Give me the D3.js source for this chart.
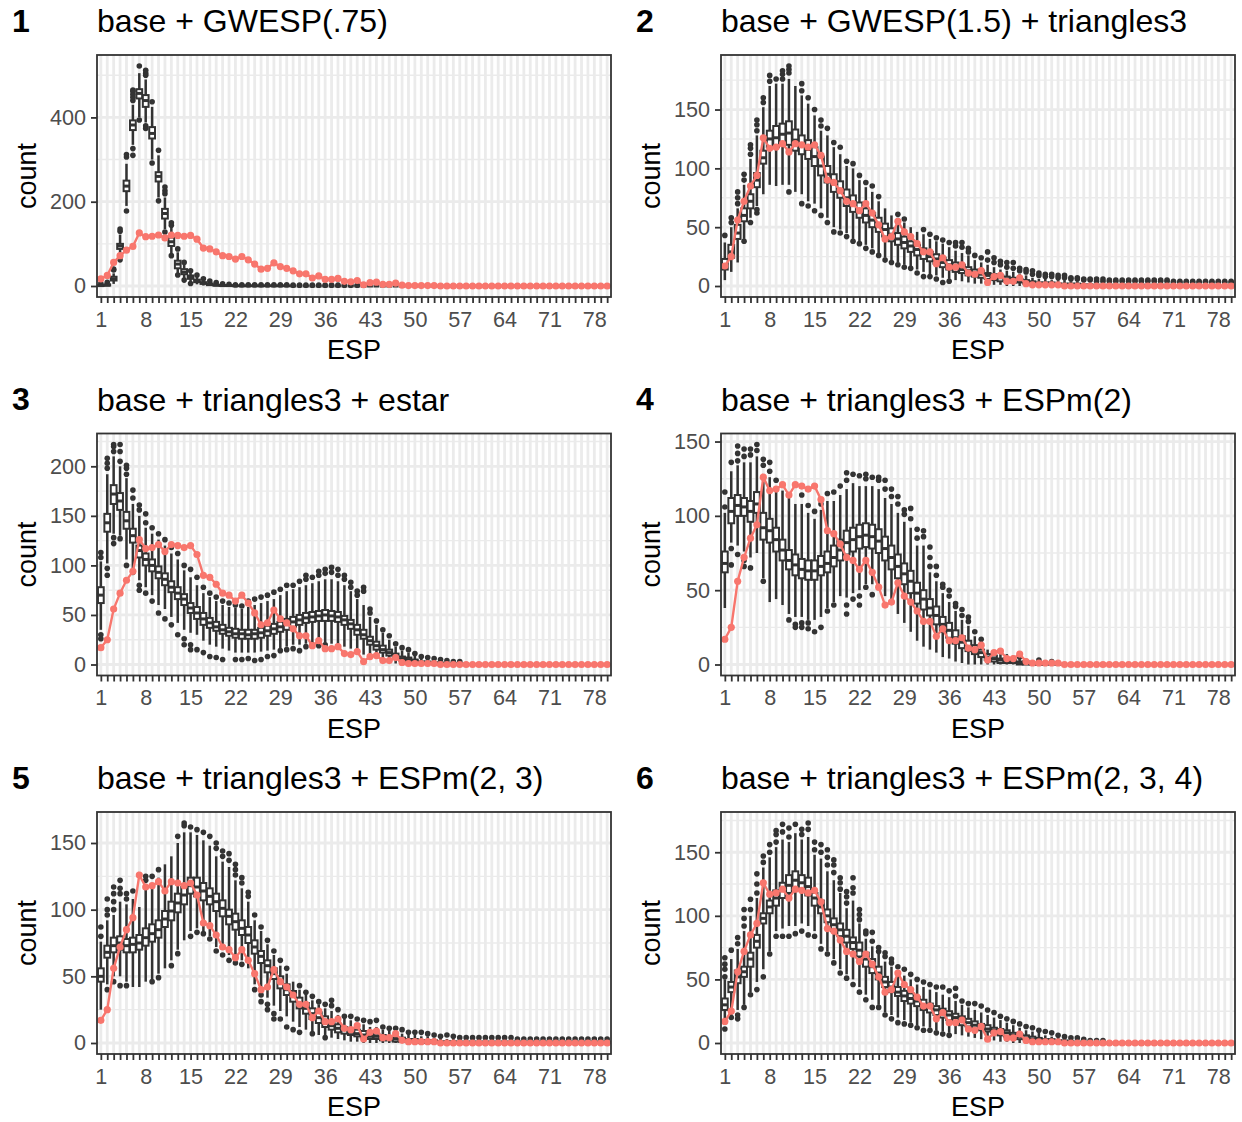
<!DOCTYPE html>
<html>
<head>
<meta charset="utf-8">
<script src="https://cdn.jsdelivr.net/npm/d3@7"></script>
<style>
  body { margin: 0; background: #fff; }
  text { font-family: "Liberation Sans", Arial, Helvetica, sans-serif; }
</style>
</head>
<body>
<div id="chart"></div>
<script>
// ESP categories and the labelled ones
const esp = [1,2,3,4,5,6,7,8,9,10,11,12,13,14,15,16,17,18,19,20,
  21,22,23,24,25,26,27,28,29,30,31,32,33,34,35,36,37,38,39,40,
  41,42,43,44,45,46,47,48,49,50,51,52,53,54,55,56,57,58,59,60,
  61,62,63,64,65,66,67,68,69,70,71,72,73,74,75,76,77,78,79,80];
const espLabels = [1, 8, 15, 22, 29, 36, 43, 50, 57, 64, 71, 78];

// observed network ESP counts (red line)
const observed = [17,25,56,72,85,94,126,117,118,121,
  114,121,120,118,120,111,90,88,81,72,
  70,64,70,62,52,40,42,55,46,42,
  36,29,29,19,24,16,16,18,11,10,
  13,3,8,9,4,4,7,2,1,1,
  1,1,1,0,0,0,0,0,0,0,
  0,0,0,0,0,0,0,0,0,0,
  0,0,0,0,0,0,0,0,0,0];

const titles = ["base + GWESP(.75)", "base + GWESP(1.5) + triangles3",
  "base + triangles3 + estar", "base + triangles3 + ESPm(2)",
  "base + triangles3 + ESPm(2, 3)", "base + triangles3 + ESPm(2, 3, 4)"];
const tags = ["1", "2", "3", "4", "5", "6"];

const yTicks1 = [0, 200, 400];
const yTicks2 = [0, 50, 100, 150];
const yTicks3 = [0, 50, 100, 150, 200];
const yTicks4 = [0, 50, 100, 150];
const yTicks5 = [0, 50, 100, 150];
const yTicks6 = [0, 50, 100, 150];

// simulated counts: [lower whisker, q1, median, q3, upper whisker] per ESP
const box1 = [
  [0,0,1,2,4],[0,1,2,4,7],[5,13,17,22,30],[68,88,95,100,122],[190,225,237,250,290],
  [335,370,382,393,430],[400,445,457,467,505],[388,425,440,453,490],[300,350,362,377,425],[210,248,260,270,310],
  [135,160,172,183,210],[78,95,105,115,140],[30,42,52,60,80],[18,28,33,40,52],[10,17,21,25,32],
  [4,9,12,15,22],[1,5,7,9,14],[0,2,4,6,10],[0,1,2,3,6],[0,0,1,2,4],
  [0,0,1,2,3],[0,0,0,1,2],[0,0,0,1,2],[0,0,0,1,2],[0,0,0,1,2],
  [0,0,0,1,2],[0,0,0,1,2],[0,0,0,1,2],[0,0,0,1,2],[0,0,0,1,2],
  [0,0,0,0,1],[0,0,0,0,1],[0,0,0,0,1],[0,0,0,0,1],[0,0,0,0,1],
  [0,0,0,0,1],[0,0,0,0,1],[0,0,0,0,1],[0,0,0,0,1],[0,0,0,0,1],
  [0,0,0,0,1],[0,0,0,0,1],[0,0,0,0,0],[0,0,0,0,0],[0,0,0,0,0],
  [0,0,0,0,0],[0,0,0,0,0],[0,0,0,0,0],[0,0,0,0,0],[0,0,0,0,0],
  [0,0,0,0,0],[0,0,0,0,0],[0,0,0,0,0],[0,0,0,0,0],[0,0,0,0,0],
  [0,0,0,0,0],[0,0,0,0,0],[0,0,0,0,0],[0,0,0,0,0],[0,0,0,0,0],
  [0,0,0,0,0],[0,0,0,0,0],[0,0,0,0,0],[0,0,0,0,0],[0,0,0,0,0],
  [0,0,0,0,0],[0,0,0,0,0],[0,0,0,0,0],[0,0,0,0,0],[0,0,0,0,0],
  [0,0,0,0,0],[0,0,0,0,0],[0,0,0,0,0],[0,0,0,0,0],[0,0,0,0,0],
  [0,0,0,0,0],[0,0,0,0,0],[0,0,0,0,0],[0,0,0,0,0],[0,0,0,0,0]];
const out1 = [
  [6],[9],[38,40],[130,135,62],[306,312,178],[440,448,455,462,465,326,310],[522,394],[500,505,512,380,374],[437,292],[322,202],
  [219,226,235,128],[144,150,72],[88,26],[56,14],[36,6],[26],[17],[12],[8],[5],
  [4],[3],[3],[3],[3],[3],[3],[3],[3],[3],
  [2],[2],[2],[2],[2],[2],[2],[2],[2],[2],
  [2],[2],[],[],[],[],[],[],[],[],
  [],[],[],[],[],[],[],[],[],[],
  [],[],[],[],[],[],[],[],[],[],
  [],[],[],[],[],[],[],[],[],[]];

const box2 = [
  [5,14,18,23,37],[12,24,29,35,50],[20,40,45,52,66],[40,55,60,66,86],[58,66,72,78,108],
  [68,84,90,96,128],[78,104,109,115,152],[86,118,125,132,170],[85,118,126,136,172],[86,121,129,138,172],
  [86,120,130,140,176],[80,115,124,133,170],[78,112,120,128,162],[72,108,116,124,155],[70,102,110,118,145],
  [66,94,102,110,132],[58,88,95,102,128],[50,80,88,95,118],[48,75,82,89,112],[45,68,75,82,102],
  [40,63,70,77,100],[38,58,64,71,90],[35,54,60,66,84],[32,50,56,62,80],[28,46,52,58,72],
  [24,42,48,53,66],[22,38,44,49,60],[20,35,40,45,58],[18,32,37,42,54],[16,29,34,38,50],
  [14,26,31,35,46],[12,23,28,32,44],[10,21,25,29,40],[9,19,23,27,38],[7,16,20,24,36],
  [6,14,18,22,33],[5,12,16,20,30],[4,11,14,18,28],[3,9,13,16,26],[2,8,11,14,22],
  [2,7,10,13,20],[1,6,9,11,18],[1,5,8,10,16],[1,4,7,9,14],[0,4,6,8,13],
  [0,3,5,7,12],[0,3,4,6,10],[0,2,3,5,9],[0,2,3,4,7],[0,1,2,3,6],
  [0,1,2,3,6],[0,1,2,3,5],[0,1,1,2,5],[0,0,1,2,5],[0,0,1,2,4],
  [0,0,1,2,4],[0,0,1,1,3],[0,0,1,1,3],[0,0,0,1,2],[0,0,0,1,2],
  [0,0,0,1,2],[0,0,0,1,2],[0,0,0,1,2],[0,0,0,1,2],[0,0,0,1,2],
  [0,0,0,1,2],[0,0,0,1,2],[0,0,0,1,2],[0,0,0,1,2],[0,0,0,1,2],
  [0,0,0,0,1],[0,0,0,0,1],[0,0,0,0,1],[0,0,0,0,1],[0,0,0,0,1],
  [0,0,0,0,1],[0,0,0,0,1],[0,0,0,0,1],[0,0,0,0,1],[0,0,0,0,1]];
const out2 = [
  [43],[54,58],[70,75,80],[90,95,38],[112,117,120,54],[132,137,141,62,65],[156,160],[174,179],[176],[176,180,183],
  [181,184,187,80],[],[166,172,70],[160,68],[150,64],[136,141,60],[134,54],[122,46],[118,45],[106,42],
  [104,38],[94,36],[88,32],[85,29],[76,26],[22],[20],[61,18],[57,16],[15],
  [11],[48,8],[44,8],[41,6],[39,3],[37,4],[34,37],[33,37],[29,32],[26],
  [24],[22,29],[20,24],[18,21],[16,20],[15,20],[13,15],[12,14],[10,13],[9,11],
  [8,10],[8,10],[7,9],[7,9],[6,7],[6,7],[5,6],[5,6],[4,6],[4,6],
  [4,5],[4,5],[4,5],[4,5],[4,5],[4,5],[4,5],[4,5],[4,5],[4,5],
  [3,4],[3,4],[3,4],[3,4],[3,4],[3,4],[3,4],[3,4],[3,4],[3,4]];

const box3 = [
  [35,62,70,78,104],[102,134,143,152,192],[132,162,172,181,210],[130,156,165,173,200],[106,137,145,154,188],
  [95,123,130,137,162],[85,108,115,120,150],[78,100,106,112,138],[70,94,100,106,132],[60,87,93,99,126],
  [56,80,86,92,120],[48,73,78,84,112],[42,66,72,78,106],[35,60,66,71,95],[32,52,57,62,88],
  [30,46,52,58,80],[24,40,46,52,72],[20,37,42,47,68],[18,34,38,43,64],[16,31,35,40,60],
  [14,29,33,37,58],[12,27,31,36,57],[12,26,31,35,56],[12,26,30,35,58],[12,26,31,35,60],
  [13,27,32,37,62],[14,29,34,39,64],[15,31,36,41,66],[16,33,38,43,70],[18,35,41,46,74],
  [20,38,43,48,76],[20,40,45,50,78],[21,42,47,52,80],[22,43,48,53,82],[22,44,49,54,84],
  [22,44,50,55,86],[21,44,49,54,86],[20,43,48,53,84],[18,40,45,49,80],[16,36,41,45,74],
  [12,30,35,40,66],[10,26,30,35,60],[8,20,24,28,48],[6,15,19,23,40],[4,12,15,19,32],
  [2,9,12,15,25],[1,6,8,11,18],[0,4,6,8,14],[0,3,5,7,12],[0,2,3,5,9],
  [0,1,2,3,6],[0,1,2,3,6],[0,1,1,2,4],[0,0,1,2,4],[0,0,1,1,3],
  [0,0,0,1,2],[0,0,0,1,2],[0,0,0,0,1],[0,0,0,0,1],[0,0,0,0,1],
  [0,0,0,0,0],[0,0,0,0,0],[0,0,0,0,0],[0,0,0,0,0],[0,0,0,0,0],
  [0,0,0,0,0],[0,0,0,0,0],[0,0,0,0,0],[0,0,0,0,0],[0,0,0,0,0],
  [0,0,0,0,0],[0,0,0,0,0],[0,0,0,0,0],[0,0,0,0,0],[0,0,0,0,0],
  [0,0,0,0,0],[0,0,0,0,0],[0,0,0,0,0],[0,0,0,0,0],[0,0,0,0,0]];
const out3 = [
  [108,113,30,26],[198,203,208,97,90],[215,220,222,128,122],[205,215,222,127],[192,198,201,100],[168,176,93],[156,161,80,75],[143,152,72],[138,64],[132,52],
  [126,46],[118,40],[112,30],[100,26,20],[96,20,15],[88,15],[78,12],[72,8],[68,7],[64,5],
  [62],[60,5],[59,5],[64,6],[66,4],[68,5],[70,8],[73,9],[76,14],[80,15],
  [80,16],[84,14],[86,90,18],[88,20],[90,94,19],[92,96,20],[93,98],[90,96],[86,90],[78,83],
  [70,74],[74,78],[52,56],[44],[35],[29],[21],[17],[15],[11],
  [8],[7],[6],[5],[4],[3],[3],[],[],[],
  [],[],[],[],[],[],[],[],[],[],
  [],[],[],[],[],[],[],[],[],[]];

const box4 = [
  [38,62,68,76,102],[82,95,103,112,130],[80,100,107,114,134],[76,100,106,112,136],[72,96,103,110,136],
  [75,102,108,116,140],[58,84,92,102,128],[42,82,90,98,126],[44,76,84,92,120],[40,70,77,84,117],
  [34,64,70,77,112],[32,60,67,74,108],[32,58,64,71,108],[30,57,63,70,102],[30,57,63,70,98],
  [32,60,66,73,104],[38,62,68,76,110],[42,66,72,80,110],[46,70,77,84,114],[45,74,82,90,118],
  [48,76,84,92,122],[50,78,86,94,120],[54,79,87,95,120],[54,78,86,94,120],[50,75,83,91,118],
  [46,70,78,86,112],[40,64,72,80,108],[34,58,66,74,102],[28,54,61,68,96],[22,48,56,63,92],
  [16,41,48,55,80],[12,37,44,50,80],[10,33,38,44,62],[8,27,33,39,56],[5,22,27,32,48],
  [4,18,23,28,42],[2,14,18,23,36],[1,11,15,19,30],[0,9,12,16,26],[0,7,10,13,19],
  [0,5,8,10,15],[0,3,5,7,10],[0,2,4,6,9],[0,1,3,4,7],[0,1,2,4,7],
  [0,1,2,3,6],[0,0,1,2,4],[0,0,1,2,4],[0,0,1,1,3],[0,0,0,1,2],
  [0,0,0,1,2],[0,0,0,0,1],[0,0,0,0,1],[0,0,0,0,0],[0,0,0,0,0],
  [0,0,0,0,0],[0,0,0,0,0],[0,0,0,0,0],[0,0,0,0,0],[0,0,0,0,0],
  [0,0,0,0,0],[0,0,0,0,0],[0,0,0,0,0],[0,0,0,0,0],[0,0,0,0,0],
  [0,0,0,0,0],[0,0,0,0,0],[0,0,0,0,0],[0,0,0,0,0],[0,0,0,0,0],
  [0,0,0,0,0],[0,0,0,0,0],[0,0,0,0,0],[0,0,0,0,0],[0,0,0,0,0],
  [0,0,0,0,0],[0,0,0,0,0],[0,0,0,0,0],[0,0,0,0,0],[0,0,0,0,0]];
const out4 = [
  [106,116],[136,78,67],[137,142,147,74],[140,145,70,66],[141,145,65],[144,148],[134,138,56],[130,136],[124],[],
  [30],[27,25],[114,28,25],[107,28,24],[103,22],[108,25],[115,36],[116,40],[120],[124,129,40,34],
  [128,44],[127,46,40],[125,128,52],[126,47],[124,126],[118,124],[113,118],[108,113],[101,104],[98,105],
  [85,91],[86,90],[66,72,79],[60,66],[52,54],[46,50],[39,41],[33,37],[29,32],[22],
  [17],[],[],[],[],[],[5],[],[],[3],
  [],[2],[],[],[],[],[],[],[],[],
  [],[],[],[],[],[],[],[],[],[],
  [],[],[],[],[],[],[],[],[],[]];

const box5 = [
  [25,46,50,56,76],[44,64,68,73,92],[50,68,73,79,96],[50,70,75,80,106],[46,68,73,78,104],
  [42,68,74,79,108],[42,70,75,81,102],[46,73,79,86,118],[48,76,82,89,120],[52,79,85,92,124],
  [56,87,93,99,134],[62,92,99,106,140],[70,98,105,112,150],[77,104,111,117,158],[84,112,118,124,158],
  [86,110,117,124,156],[84,107,114,120,152],[80,104,110,116,148],[72,99,106,112,140],[70,95,101,107,136],
  [66,89,95,100,132],[64,85,91,97,122],[62,81,86,92,116],[56,75,81,87,106],[44,67,72,77,92],
  [40,60,65,69,84],[34,53,58,62,74],[28,48,52,56,66],[24,41,45,50,58],[20,36,40,44,52],
  [16,31,35,39,46],[12,26,30,34,40],[10,22,26,30,36],[8,18,22,26,32],[6,15,19,23,29],
  [5,12,16,20,26],[4,10,13,16,24],[3,8,11,14,21],[2,7,10,12,18],[1,6,8,11,17],
  [1,5,7,10,15],[0,4,6,9,14],[0,3,5,7,12],[0,3,5,7,12],[0,2,4,6,10],
  [0,2,3,5,9],[0,1,3,4,8],[0,1,2,4,7],[0,1,2,3,6],[0,1,2,3,6],
  [0,0,1,2,5],[0,0,1,2,5],[0,0,1,2,4],[0,0,1,1,3],[0,0,1,1,3],
  [0,0,1,1,3],[0,0,0,1,2],[0,0,0,1,2],[0,0,0,1,2],[0,0,0,1,2],
  [0,0,0,1,2],[0,0,0,1,2],[0,0,0,1,2],[0,0,0,1,2],[0,0,0,1,2],
  [0,0,0,1,2],[0,0,0,1,2],[0,0,0,1,2],[0,0,0,1,2],[0,0,0,1,2],
  [0,0,0,1,2],[0,0,0,1,2],[0,0,0,1,2],[0,0,0,1,2],[0,0,0,1,2],
  [0,0,0,1,2],[0,0,0,1,2],[0,0,0,1,2],[0,0,0,1,2],[0,0,0,1,2]];
const out5 = [
  [80,87],[96,100,108,40],[100,106,112,117,46],[112,116,122,43],[108,112,43],[114],[],[122,125],[125,46],[130,49],
  [],[58],[155,67],[163,165],[162,80],[160,83],[158,82],[155,78],[146,150,69],[140,144,66],
  [137,142,62],[126,130,134,60],[120,124,59],[110,113],[96,40],[87,36,31],[77,29,25],[69,22,18],[62,18],[56,12],
  [10],[43,8],[38],[35,7],[31],[29,4],[28,32],[25],[20],[20],
  [18],[17],[16],[17],[12],[11],[11],[10],[8],[8],
  [8],[7],[6],[5],[6],[5],[4],[4],[4],[4],
  [4],[4],[4],[4],[4],[3],[3],[3],[3],[3],
  [3],[3],[3],[3],[3],[3],[3],[3],[3],[3]];

const box6 = [
  [16,26,30,35,50],[22,40,44,48,66],[26,47,52,57,74],[30,52,56,60,88],[40,60,66,71,100],
  [48,75,80,85,114],[58,94,98,102,138],[72,102,107,112,146],[88,108,114,120,154],[90,114,120,126,160],
  [92,118,124,132,158],[92,122,128,135,165],[94,120,126,132,160],[92,116,123,130,162],[88,108,114,118,148],
  [78,102,107,112,145],[72,95,100,105,135],[66,88,93,98,128],[58,84,89,94,118],[54,79,84,89,106],
  [50,74,79,83,112],[44,68,73,79,94],[38,60,66,71,82],[34,55,60,66,76],[30,50,55,60,70],
  [24,44,48,52,64],[22,40,44,48,60],[20,37,40,44,56],[18,33,37,41,53],[16,31,35,39,50],
  [14,29,33,36,46],[13,26,30,34,44],[12,24,28,31,42],[10,22,26,29,40],[9,20,24,27,38],
  [8,18,22,25,36],[7,16,20,23,33],[6,14,18,21,30],[5,13,16,19,28],[4,11,14,17,26],
  [3,10,13,15,24],[2,9,11,14,22],[2,8,10,12,20],[1,6,9,11,18],[1,5,8,10,16],
  [0,4,6,8,14],[0,3,5,7,12],[0,3,4,6,10],[0,2,3,5,9],[0,1,3,4,8],
  [0,1,2,3,6],[0,1,2,3,5],[0,0,1,2,4],[0,0,1,2,4],[0,0,1,1,3],
  [0,0,0,1,2],[0,0,0,1,2],[0,0,0,0,1],[0,0,0,0,1],[0,0,0,0,1],
  [0,0,0,0,0],[0,0,0,0,0],[0,0,0,0,0],[0,0,0,0,0],[0,0,0,0,0],
  [0,0,0,0,0],[0,0,0,0,0],[0,0,0,0,0],[0,0,0,0,0],[0,0,0,0,0],
  [0,0,0,0,0],[0,0,0,0,0],[0,0,0,0,0],[0,0,0,0,0],[0,0,0,0,0],
  [0,0,0,0,0],[0,0,0,0,0],[0,0,0,0,0],[0,0,0,0,0],[0,0,0,0,0]];
const out6 = [
  [52,58,62,67,11],[73,20],[78,83,22,19],[92,98,105,28],[105,113,38],[118,125,133,42],[142,147,52],[150,156,70],[158,164,167,84],[166,172,84],
  [162,169,84],[172,86],[164,168,88],[168,173,85],[152,158,84],[150,156,74],[140,146,152,70],[134,140,144,63],[121,126,130,55],[110,115,119,51],
  [118,122,130,46],[97,101,105,40],[86,88,34],[80,87,28],[72,75,28],[68,71,22],[63,66,19],[60,16],[58,15],[54,14],
  [50,12],[48,10],[46,10],[44,8],[44,7],[41,6],[37,43],[33],[31],[31],
  [29],[26],[24],[21],[19],[17],[15],[13],[12],[10],
  [9],[8],[6],[5],[4],[4],[3],[2],[2],[2],
  [],[],[],[],[],[],[],[],[],[],
  [],[],[],[],[],[],[],[],[],[]];

const panels = [
  {box: box1, out: out1, ticks: yTicks1},
  {box: box2, out: out2, ticks: yTicks2},
  {box: box3, out: out3, ticks: yTicks3},
  {box: box4, out: out4, ticks: yTicks4},
  {box: box5, out: out5, ticks: yTicks5},
  {box: box6, out: out6, ticks: yTicks6}
];

const width = 514, height = 242;
const dark = "#333333", red = "#F8766D", grid = "#EBEBEB";

const svg = d3.select("#chart")
  .append("svg")
    .attr("width", 1242)
    .attr("height", 1122)
    .style("background", "#fff");

panels.forEach((p, k) => {
  const col = k % 2, row = Math.floor(k / 2);
  const x0 = 97 + col * 624, y0 = 55 + row * 378.5;
  const g = svg.append("g").attr("transform", `translate(${x0},${y0})`);

  const x = d3.scalePoint()
    .domain(esp)
    .range([0, width])
    .padding(0.6);
  const step = x.step();

  // y range covers every layer, plus 5% either side like ggplot
  const allVals = observed.concat(p.box.flat(), p.out.flat());
  const lo = d3.min(allVals), hi = d3.max(allVals);
  const pad = (hi - lo) * 0.05;
  const y = d3.scaleLinear()
    .domain([lo - pad, hi + pad])
    .range([height, 0]);

  // panel background + grid
  g.append("rect")
    .attr("width", width).attr("height", height)
    .attr("fill", "#fff");

  const tstep = p.ticks[1] - p.ticks[0];
  const minor = p.ticks.map(t => t + tstep / 2)
    .concat([p.ticks[0] - tstep / 2])
    .filter(v => v > y.domain()[0] && v < y.domain()[1]);
  g.append("g").selectAll("line")
    .data(minor)
    .join("line")
      .attr("x1", 0).attr("x2", width)
      .attr("y1", d => y(d)).attr("y2", d => y(d))
      .attr("stroke", grid).attr("stroke-width", 1.4);
  g.append("g").selectAll("line")
    .data(p.ticks)
    .join("line")
      .attr("x1", 0).attr("x2", width)
      .attr("y1", d => y(d)).attr("y2", d => y(d))
      .attr("stroke", grid).attr("stroke-width", 2.8);
  g.append("g").selectAll("line")
    .data(esp)
    .join("line")
      .attr("x1", d => x(d)).attr("x2", d => x(d))
      .attr("y1", 0).attr("y2", height)
      .attr("stroke", grid).attr("stroke-width", 2.8);

  // boxplots
  const bw = step * 0.9;
  const boxes = g.append("g")
    .selectAll("g")
    .data(esp.map((e, i) => ({e, s: p.box[i], o: p.out[i]})))
    .join("g");

  boxes.selectAll("circle")
    .data(d => d.o.map(v => ({e: d.e, v})))
    .join("circle")
      .attr("cx", d => x(d.e))
      .attr("cy", d => y(d.v))
      .attr("r", 2.8)
      .attr("fill", dark);

  boxes.append("line")
    .attr("x1", d => x(d.e)).attr("x2", d => x(d.e))
    .attr("y1", d => y(d.s[0])).attr("y2", d => y(d.s[1]))
    .attr("stroke", dark).attr("stroke-width", 2.5);
  boxes.append("line")
    .attr("x1", d => x(d.e)).attr("x2", d => x(d.e))
    .attr("y1", d => y(d.s[3])).attr("y2", d => y(d.s[4]))
    .attr("stroke", dark).attr("stroke-width", 2.5);
  boxes.append("rect")
    .attr("x", d => x(d.e) - bw / 2)
    .attr("width", bw)
    .attr("y", d => y(d.s[3]))
    .attr("height", d => y(d.s[1]) - y(d.s[3]))
    .attr("fill", "#fff")
    .attr("stroke", dark).attr("stroke-width", 2);
  boxes.append("line")
    .attr("x1", d => x(d.e) - bw / 2).attr("x2", d => x(d.e) + bw / 2)
    .attr("y1", d => y(d.s[2])).attr("y2", d => y(d.s[2]))
    .attr("stroke", dark).attr("stroke-width", 3);

  // observed line on top
  g.append("path")
    .datum(observed)
    .attr("fill", "none")
    .attr("stroke", red)
    .attr("stroke-width", 2.4)
    .attr("d", d3.line()
      .x((d, i) => x(esp[i]))
      .y(d => y(d)));
  g.append("g").selectAll("circle")
    .data(observed)
    .join("circle")
      .attr("cx", (d, i) => x(esp[i]))
      .attr("cy", d => y(d))
      .attr("r", 3.6)
      .attr("fill", red);

  // panel border
  g.append("rect")
    .attr("width", width).attr("height", height)
    .attr("fill", "none")
    .attr("stroke", dark).attr("stroke-width", 1.8);

  // axes
  const yAxis = g.append("g")
    .call(d3.axisLeft(y)
      .tickValues(p.ticks)
      .tickSize(6)
      .tickPadding(5));
  const xAxis = g.append("g")
    .attr("transform", `translate(0,${height})`)
    .call(d3.axisBottom(x)
      .tickSize(6)
      .tickPadding(8.5)
      .tickFormat(d => espLabels.includes(d) ? d : ""));
  [yAxis, xAxis].forEach(a => {
    a.select(".domain").remove();
    a.selectAll(".tick line").attr("stroke", dark).attr("stroke-width", 1.8);
    a.selectAll(".tick text")
      .attr("fill", "#4D4D4D")
      .style("font-size", "21.6px");
  });

  // titles and labels
  g.append("text")
    .attr("x", -85).attr("y", -23.5)
    .style("font-size", "32px").style("font-weight", "bold")
    .text(tags[k]);
  g.append("text")
    .attr("x", 0).attr("y", -23)
    .style("font-size", "32px")
    .text(titles[k]);
  g.append("text")
    .attr("x", width / 2).attr("y", 304)
    .attr("text-anchor", "middle")
    .style("font-size", "27px")
    .text("ESP");
  g.append("text")
    .attr("transform", `translate(-61,${height / 2}) rotate(-90)`)
    .attr("text-anchor", "middle")
    .style("font-size", "27px")
    .text("count");
});
</script>
</body>
</html>
